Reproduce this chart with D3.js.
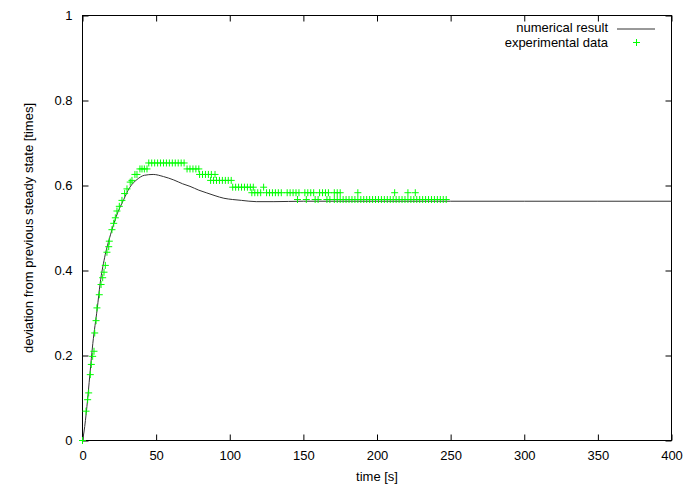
<!DOCTYPE html>
<html>
<head>
<meta charset="utf-8">
<script src="https://cdn.jsdelivr.net/npm/d3@7"></script>
<style>
html,body{margin:0;padding:0;background:#fff;}
text{font-family:"Liberation Sans",Arial,Helvetica,sans-serif;font-size:13px;fill:#000;}
</style>
</head>
<body>
<svg id="chart" width="692" height="485"></svg>
<script>
// ---- data ----
const xTicks = [0, 50, 100, 150, 200, 250, 300, 350, 400];
const yTicks = [0, 0.2, 0.4, 0.6, 0.8, 1];
const yTickLabels = ["0", "0.2", "0.4", "0.6", "0.8", "1"];
const seriesNames = ["numerical result", "experimental data"];

const numT = [0,1,3,5,7,10,12,15,19,23,28,32,37,42,48,55,62,68,73,79,84,90,96,102,108,118,130,150,200,250,300,350,400];
const numV = [0,0.02,0.08,0.155,0.228,0.31,0.37,0.43,0.484,0.528,0.567,0.595,0.614,0.624,0.626,0.621,0.613,0.604,0.598,0.589,0.583,0.576,0.570,0.567,0.565,0.562,0.562,0.563,0.563,0.563,0.563,0.563,0.563];

const expT = [
  0,2.4,3.5,4.2,5.3,6,6.9,7.8,8.3,9.2,9.8,11.4,12.6,13.7,14.6,15.5,16.6,17.8,18.2,20,21.2,22.3,23.4,25,26.8,28.6,30.2,32.4,33.6,35.6,37,39,40.4,42,43.8,
  45,47,49,51,53,55,57,59,61,63,65,67,69,
  71,73,75,77,79,
  79.5,81.5,83.5,85.5,87.5,90,
  87,89,91,93,95,97,99,101,
  102,104,106,108,110,112,114,116,123,
  115,117,119,121,125,127,129,131,133,135,139,141,143,145,147,151,153,155,157,161,163,165,167,171,173,175,187,212,221,226,
  146,152,158,160,166,168,171,173,175,177,179,181,183,185,187,189,191,193,195,197,199,201,203,205,207,209,211,213,215,217,219,221,223,225,227,229,231,233,235,237,239,241,243,245,247
];
const expV = [
  0,0.069,0.096,0.112,0.155,0.179,0.198,0.21,0.253,0.282,0.312,0.343,0.367,0.383,0.396,0.412,0.443,0.456,0.469,0.496,0.511,0.524,0.54,0.551,0.565,0.581,0.592,0.608,0.612,0.626,0.626,0.639,0.639,0.639,0.639,
  0.653,0.653,0.653,0.653,0.653,0.653,0.653,0.653,0.653,0.653,0.653,0.653,0.653,
  0.639,0.639,0.639,0.639,0.639,
  0.626,0.626,0.626,0.626,0.626,0.626,
  0.612,0.612,0.612,0.612,0.612,0.612,0.612,0.612,
  0.596,0.596,0.596,0.596,0.596,0.596,0.596,0.596,0.596,
  0.583,0.583,0.583,0.583,0.583,0.583,0.583,0.583,0.583,0.583,0.583,0.583,0.583,0.583,0.583,0.583,0.583,0.583,0.583,0.583,0.583,0.583,0.583,0.583,0.583,0.583,0.583,0.583,0.583,0.583,
  0.567,0.567,0.567,0.567,0.567,0.567,0.567,0.567,0.567,0.567,0.567,0.567,0.567,0.567,0.567,0.567,0.567,0.567,0.567,0.567,0.567,0.567,0.567,0.567,0.567,0.567,0.567,0.567,0.567,0.567,0.567,0.567,0.567,0.567,0.567,0.567,0.567,0.567,0.567,0.567,0.567,0.567,0.567,0.567,0.567
];

// ---- drawing ----
const svg = d3.select("#chart");
const x = d3.scaleLinear().domain([0, 400]).range([82.5, 671.5]);
const y = d3.scaleLinear().domain([0, 1]).range([440.5, 15.5]);
const tickLen = 6;

// ticks (inward on all sides)
const axisBottom = d3.axisBottom(x).tickValues(xTicks).tickSize(-tickLen).tickPadding(10).tickFormat(d3.format("d"));
const axisTop = d3.axisTop(x).tickValues(xTicks).tickSize(-tickLen).tickFormat("");
const axisLeft = d3.axisLeft(y).tickValues(yTicks).tickSize(-tickLen).tickPadding(10).tickFormat((d,i) => yTickLabels[i]);
const axisRight = d3.axisRight(y).tickValues(yTicks).tickSize(-tickLen).tickFormat("");

function styleAxis(g) {
  g.select(".domain").remove();
  g.selectAll(".tick line").attr("stroke", "#000").attr("stroke-width", 1);
  g.selectAll(".tick text").attr("font-size", 13).attr("font-family", '"Liberation Sans",Arial,sans-serif').attr("fill", "#000");
}
svg.append("g").attr("transform", `translate(0,${y(0)})`).call(axisBottom).call(styleAxis);
svg.append("g").attr("transform", `translate(0,${y(1)})`).call(axisTop).call(styleAxis);
svg.append("g").attr("transform", `translate(${x(0)},0)`).call(axisLeft).call(styleAxis);
svg.append("g").attr("transform", `translate(${x(400)},0)`).call(axisRight).call(styleAxis);

// border
svg.append("rect")
  .attr("x", x(0)).attr("y", y(1))
  .attr("width", x(400) - x(0)).attr("height", y(0) - y(1))
  .attr("fill", "none").attr("stroke", "#000").attr("stroke-width", 1);

// axis titles
svg.append("text").attr("x", (x(0) + x(400)) / 2).attr("y", 481).attr("text-anchor", "middle").text("time [s]");
svg.append("text").attr("transform", `translate(33,${(y(0) + y(1)) / 2}) rotate(-90)`).attr("text-anchor", "middle")
  .text("deviation from previous steady state [times]");

// numerical curve
const numData = numT.map((t, i) => ({t, v: numV[i]}));
const line = d3.line().x(d => x(d.t)).y(d => y(d.v)).curve(d3.curveMonotoneX);
svg.append("path").datum(numData).attr("d", line).attr("fill", "none").attr("stroke", "#333").attr("stroke-width", 1);

// experimental crosses
const expData = expT.map((t, i) => ({t, v: expV[i]}));
const cross = (cx, cy, r) => `M${cx - r},${cy}h${2 * r}M${cx},${cy - r}v${2 * r}`;
svg.append("g").selectAll("path").data(expData).join("path")
  .attr("d", d => cross(x(d.t), y(d.v), 3.5))
  .attr("stroke", "#00ff00").attr("stroke-width", 1).attr("fill", "none");

// legend
const lg = svg.append("g");
lg.append("text").attr("x", 608).attr("y", 32).attr("text-anchor", "end").text(seriesNames[0]);
lg.append("line").attr("x1", 617).attr("x2", 655).attr("y1", 29).attr("y2", 29).attr("stroke", "#333").attr("stroke-width", 1);
lg.append("text").attr("x", 608).attr("y", 47).attr("text-anchor", "end").text(seriesNames[1]);
lg.append("path").attr("d", cross(636.5, 42.5, 3.5)).attr("stroke", "#00ff00").attr("stroke-width", 1);
</script>
</body>
</html>
